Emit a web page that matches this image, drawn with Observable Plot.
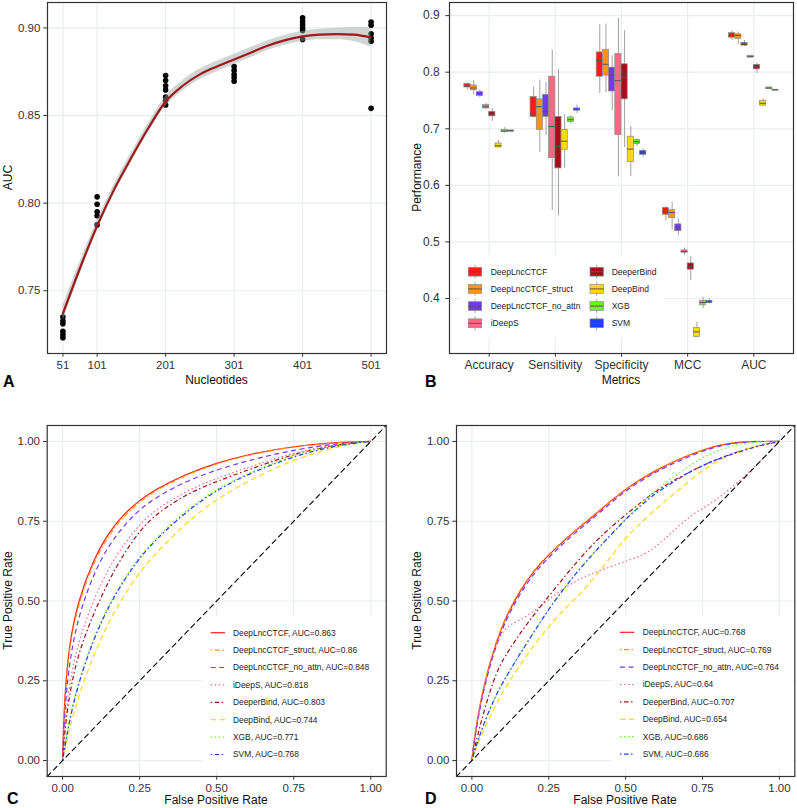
<!DOCTYPE html>
<html><head><meta charset="utf-8">
<script src="https://cdn.jsdelivr.net/npm/d3@7"></script>
<script src="https://cdn.jsdelivr.net/npm/@observablehq/plot@0.6"></script>
<style>
body{margin:0;background:#fff;}
#wrap{position:relative;width:797px;height:808px;overflow:hidden;font-family:"Liberation Sans",Arial,sans-serif;background:#fff;}
.panel{position:absolute;}
#overlay{position:absolute;left:0;top:0;pointer-events:none;}
</style></head><body><div id="wrap"></div>
<script>
// ---------- shared ----------
const models = ["DeepLncCTCF","DeepLncCTCF_struct","DeepLncCTCF_no_attn","iDeepS","DeeperBind","DeepBind","XGB","SVM"];
const colors = ["#FF1A1A","#FF9410","#7438F5","#FF6683","#A3101A","#FFD814","#6CF51E","#213CFF"];
const dashes = ["none","1.5,2.5,5,2.5","5,3.5","1.5,2.5","1.5,2.5,4.5,2.5","5.5,3.5","1.5,2.5","1.5,2.5,4.5,2.5"];

// ---------- Panel A ----------
const nucleotideTicks = [51,101,201,301,401,501];
const aucTicksA = [0.75,0.80,0.85,0.90];
const aucPointX = [51,51,51,51,51,51, 101,101,101,101,101, 201,201,201,201,201,201,201, 301,301,301,301,301, 401,401,401,401,401,401, 501,501,501,501,501,501];
const aucPointY = [0.7232,0.7249,0.7268,0.7312,0.7327,0.735, 0.7876,0.7928,0.7951,0.7994,0.8036, 0.856,0.8586,0.8605,0.8646,0.867,0.870,0.8728, 0.8696,0.8715,0.8734,0.8757,0.8779, 0.8934,0.8985,0.900,0.9019,0.9038,0.9057, 0.8541,0.8924,0.8943,0.8966,0.9015,0.9034];
const smoothX = [51,76,101,126,151,176,201,226,251,276,301,326,351,376,401,426,451,476,501];
const smoothY = [0.737,0.763,0.787,0.808,0.826,0.843,0.858,0.867,0.8735,0.878,0.882,0.886,0.890,0.893,0.8952,0.8962,0.8965,0.8962,0.8945];
const smoothSE = [0.0045,0.0036,0.003,0.0028,0.0027,0.0027,0.0029,0.003,0.003,0.003,0.003,0.0029,0.0028,0.0028,0.0029,0.003,0.0033,0.004,0.0055];

// ---------- Panel B ----------
const metrics = ["Accuracy","Sensitivity","Specificity","MCC","AUC"];
const perfTicks = [0.4,0.5,0.6,0.7,0.8,0.9];
// rows: model; columns: lower whisker, Q1, median, Q3, upper whisker
const accuracyStats = [[0.769,0.773,0.7755,0.779,0.781],[0.760,0.768,0.772,0.7765,0.785],[0.755,0.758,0.762,0.765,0.769],[0.734,0.736,0.739,0.742,0.745],[0.713,0.722,0.726,0.730,0.736],[0.666,0.667,0.670,0.674,0.679],[0.692,0.694,0.696,0.698,0.702],[0.695,0.695,0.6965,0.697,0.698]];
const sensitivityStats = [[0.719,0.7206,0.726,0.756,0.774],[0.658,0.698,0.739,0.752,0.786],[0.688,0.721,0.730,0.760,0.782],[0.556,0.648,0.704,0.792,0.839],[0.546,0.630,0.669,0.721,0.805],[0.630,0.663,0.678,0.698,0.725],[0.708,0.712,0.716,0.720,0.723],[0.727,0.732,0.734,0.736,0.742]];
const specificityStats = [[0.762,0.792,0.821,0.835,0.884],[0.764,0.794,0.814,0.839,0.885],[0.732,0.766,0.795,0.808,0.829],[0.615,0.689,0.785,0.832,0.895],[0.667,0.752,0.791,0.814,0.873],[0.616,0.641,0.664,0.686,0.704],[0.669,0.673,0.677,0.680,0.683],[0.650,0.654,0.657,0.661,0.664]];
const mccStats = [[0.537,0.548,0.554,0.560,0.563],[0.521,0.542,0.552,0.556,0.570],[0.511,0.519,0.525,0.531,0.541],[0.476,0.481,0.483,0.485,0.489],[0.432,0.451,0.456,0.462,0.474],[0.331,0.332,0.341,0.348,0.358],[0.382,0.388,0.393,0.396,0.402],[0.390,0.392,0.394,0.396,0.399]];
const aucStats = [[0.856,0.861,0.865,0.869,0.873],[0.849,0.859,0.865,0.867,0.871],[0.845,0.847,0.849,0.852,0.856],[0.825,0.826,0.8275,0.829,0.830],[0.798,0.805,0.809,0.813,0.816],[0.739,0.741,0.745,0.749,0.753],[0.770,0.770,0.772,0.773,0.774],[0.768,0.768,0.7685,0.769,0.769]];

// ---------- Panel C (ROC, set 1) ----------
const rocTicks = [0,0.25,0.5,0.75,1];
const rocDomain = [-0.05,1.05];
const fprC = [0,0.005,0.02,0.05,0.1,0.15,0.2,0.25,0.3,0.4,0.5,0.6,0.75,0.9,1];
const tprC_DeepLncCTCF   = [0,0.18,0.36,0.50,0.63,0.716,0.774,0.816,0.849,0.898,0.933,0.959,0.986,0.998,1];
const tprC_struct        = [0,0.17,0.35,0.49,0.62,0.708,0.767,0.811,0.845,0.895,0.931,0.957,0.985,0.998,1];
const tprC_no_attn       = [0,0.13,0.30,0.45,0.585,0.675,0.738,0.787,0.823,0.876,0.911,0.940,0.974,0.995,1];
const tprC_iDeepS        = [0,0.09,0.235,0.37,0.505,0.605,0.68,0.74,0.785,0.845,0.885,0.918,0.966,0.993,1];
const tprC_DeeperBind    = [0,0.07,0.20,0.335,0.46,0.565,0.65,0.72,0.77,0.835,0.875,0.910,0.962,0.992,1];
const tprC_DeepBind      = [0,0.02,0.09,0.20,0.33,0.435,0.52,0.59,0.648,0.745,0.82,0.875,0.945,0.987,1];
const tprC_XGB           = [0,0.03,0.12,0.245,0.385,0.49,0.57,0.64,0.695,0.785,0.852,0.90,0.96,0.993,1];
const tprC_SVM           = [0,0.03,0.115,0.24,0.38,0.485,0.566,0.636,0.69,0.78,0.848,0.897,0.955,0.99,1];
const aucC = [0.863,0.86,0.848,0.818,0.803,0.744,0.771,0.768];

// ---------- Panel D (ROC, set 2) ----------
const fprD = [0,0.01,0.04,0.08,0.11,0.15,0.2,0.25,0.3,0.35,0.4,0.45,0.5,0.55,0.6,0.65,0.7,0.75,0.8,0.87,0.94,1];
const tprD_DeepLncCTCF   = [0,0.085,0.245,0.375,0.448,0.522,0.594,0.645,0.69,0.731,0.77,0.812,0.85,0.882,0.91,0.934,0.955,0.973,0.988,0.999,1,1];
const tprD_struct        = [0,0.088,0.248,0.378,0.45,0.525,0.596,0.647,0.692,0.733,0.772,0.814,0.851,0.883,0.911,0.935,0.956,0.974,0.989,1,1,1];
const tprD_no_attn       = [0,0.08,0.235,0.365,0.438,0.513,0.585,0.637,0.683,0.725,0.764,0.806,0.845,0.877,0.905,0.929,0.95,0.97,0.985,0.998,1,1];
const tprD_iDeepS        = [0,0.085,0.245,0.37,0.42,0.437,0.465,0.505,0.54,0.57,0.59,0.607,0.625,0.64,0.67,0.715,0.76,0.79,0.82,0.875,0.94,1];
const tprD_DeeperBind    = [0,0.045,0.16,0.28,0.33,0.39,0.455,0.515,0.575,0.632,0.685,0.73,0.77,0.81,0.845,0.875,0.9,0.925,0.945,0.97,0.99,1];
const tprD_DeepBind      = [0,0.03,0.10,0.18,0.23,0.29,0.36,0.42,0.475,0.52,0.575,0.635,0.70,0.745,0.79,0.83,0.87,0.91,0.94,0.97,0.99,1];
const tprD_XGB           = [0,0.035,0.12,0.21,0.26,0.325,0.40,0.475,0.54,0.60,0.655,0.705,0.757,0.803,0.85,0.885,0.92,0.95,0.972,0.993,1,1];
const tprD_SVM           = [0,0.035,0.12,0.21,0.26,0.325,0.40,0.475,0.54,0.60,0.655,0.705,0.757,0.80,0.84,0.87,0.90,0.925,0.945,0.968,0.988,1];
const aucD = [0.768,0.769,0.764,0.64,0.707,0.654,0.686,0.686];

// ---------- drawing ----------
const wrap = document.getElementById("wrap");
const gridColor = "#EAEDED";
const baseStyle = {fontFamily:'"Liberation Sans", Arial, sans-serif', fontSize:"11.5px", color:"#333", background:"transparent", overflow:"visible"};
function place(svg, left, top){ svg.classList.add("panel"); svg.style.left=left+"px"; svg.style.top=top+"px"; wrap.appendChild(svg); }

// Panel A
const pointsA = aucPointX.map((x,i)=>({x, y:aucPointY[i]}));
const smoothA = smoothX.map((x,i)=>({x, y:smoothY[i], lo:smoothY[i]-smoothSE[i], hi:smoothY[i]+smoothSE[i]}));
place(Plot.plot({
  width:397, height:372, marginTop:2, marginRight:11, marginBottom:19, marginLeft:47,
  style:baseStyle,
  x:{domain:[28.5,523.5]}, y:{domain:[0.7142,0.9145]},
  marks:[
    Plot.gridX({ticks:nucleotideTicks, stroke:gridColor, strokeOpacity:1, strokeWidth:1.2}),
    Plot.gridY({ticks:aucTicksA, stroke:gridColor, strokeOpacity:1, strokeWidth:1.2}),
    Plot.dot(pointsA, {x:"x", y:"y", r:2.8, fill:"#000", stroke:"none"}),
    Plot.areaY(smoothA, {x:"x", y1:"lo", y2:"hi", fill:"#9aa3a2", fillOpacity:0.45, curve:"monotone-x"}),
    Plot.line(smoothA, {x:"x", y:"y", stroke:"#9B1B1B", strokeWidth:2.2, curve:"monotone-x"}),
    Plot.axisX({ticks:nucleotideTicks, tickSize:3.7, tickPadding:3.3, label:null}),
    Plot.axisY({ticks:aucTicksA, tickFormat:d3.format(".2f"), tickSize:3.7, tickPadding:3.5, label:null}),
    Plot.frame({stroke:"#333", strokeWidth:1.2})
  ]
}), 0, 0);

// Panel B
const statsByMetric = [accuracyStats, sensitivityStats, specificityStats, mccStats, aucStats];
const dodge = 0.75, step = dodge/models.length;
const boxRows = statsByMetric.flatMap((rows,i)=>rows.map((s,j)=>{
  const cx = i + (j-(models.length-1)/2)*step;
  return {i, j, cx, x1:cx-step/2, x2:cx+step/2, lo:s[0], q1:s[1], med:s[2], q3:s[3], hi:s[4]};
}));
place(Plot.plot({
  width:397, height:372, marginTop:2, marginRight:4, marginBottom:19, marginLeft:49,
  style:{...baseStyle, fontSize:"12px"},
  x:{domain:[-0.6,4.6]}, y:{domain:[0.3028,0.9232]},
  marks:[
    Plot.gridX({ticks:metrics.map((_,i)=>i), stroke:gridColor, strokeOpacity:1, strokeWidth:1.2}),
    Plot.gridY({ticks:perfTicks, stroke:gridColor, strokeOpacity:1, strokeWidth:1.2}),
    ...models.flatMap((m,j)=>{
      const d = boxRows.filter(r=>r.j===j);
      return [
        Plot.ruleX(d, {x:"cx", y1:"lo", y2:"hi", stroke:"#a0a0a0", strokeWidth:1}),
        Plot.rect(d, {x1:"x1", x2:"x2", y1:"q1", y2:"q3", fill:colors[j], stroke:"#8a8a8a", strokeWidth:0.7}),
        Plot.ruleY(d, {y:"med", x1:"x1", x2:"x2", stroke:"#555", strokeWidth:1})
      ];
    }),
    Plot.axisX({ticks:metrics.map((_,i)=>i), tickFormat:i=>metrics[i], tickSize:3.7, tickPadding:3.3, label:null}),
    Plot.axisY({ticks:perfTicks, tickFormat:d3.format(".1f"), tickSize:3.7, tickPadding:6, label:null}),
    Plot.frame({stroke:"#333", strokeWidth:1.2})
  ]
}), 400, 0);

// Panels C and D
const tprC = [tprC_DeepLncCTCF,tprC_struct,tprC_no_attn,tprC_iDeepS,tprC_DeeperBind,tprC_DeepBind,tprC_XGB,tprC_SVM];
const tprD = [tprD_DeepLncCTCF,tprD_struct,tprD_no_attn,tprD_iDeepS,tprD_DeeperBind,tprD_DeepBind,tprD_XGB,tprD_SVM];
function rocPlot(fpr, tprs, marginLeft, marginRight){
  return Plot.plot({
    width:397, height:375, marginTop:5, marginRight, marginBottom:19, marginLeft,
    style:baseStyle,
    x:{domain:rocDomain}, y:{domain:rocDomain},
    marks:[
      Plot.gridX({ticks:rocTicks, stroke:gridColor, strokeOpacity:1, strokeWidth:1.2}),
      Plot.gridY({ticks:rocTicks, stroke:gridColor, strokeOpacity:1, strokeWidth:1.2}),
      ...models.map((m,k)=>Plot.line(fpr.map((f,i)=>({fpr:f, tpr:tprs[k][i]})), {
        x:"fpr", y:"tpr", stroke:colors[k], strokeWidth:1.2, strokeDasharray:dashes[k], strokeLinecap:"butt", curve:"basis"})),
      Plot.line(rocDomain, {x:d=>d, y:d=>d, stroke:"#000", strokeWidth:1.1, strokeDasharray:"5,4"}),
      Plot.axisX({ticks:rocTicks, tickFormat:d3.format(".2f"), tickSize:3.7, tickPadding:3.3, label:null}),
      Plot.axisY({ticks:rocTicks, tickFormat:d3.format(".2f"), tickSize:3.7, tickPadding:3.5, label:null}),
      Plot.frame({stroke:"#333", strokeWidth:1.2})
    ]
  });
}
place(rocPlot(fprC, tprC, 46.7, 11.3), 0, 420);
place(rocPlot(fprD, tprD, 56, 2.7), 400, 420);

// ---------- overlay: titles, panel letters, legends ----------
const ov = d3.select(wrap).append("svg").attr("id","overlay").attr("width",797).attr("height",808)
  .style("font-family",'"Liberation Sans", Arial, sans-serif');
function title(x,y,txt,rot){
  const t = ov.append("text").attr("text-anchor","middle").attr("font-size",12).attr("fill","#111").text(txt);
  if(rot) t.attr("transform",`translate(${x},${y}) rotate(-90)`); else t.attr("x",x).attr("y",y);
}
title(216.5,383.5,"Nucleotides");
title(11.7,177.5,"AUC",true);
title(621,383.5,"Metrics");
title(420.7,177.5,"Performance",true);
title(216,804,"False Positive Rate");
title(11.7,600.5,"True Positive Rate",true);
title(625,804,"False Positive Rate");
title(420.7,600.5,"True Positive Rate",true);
[["A",3,387],["B",425,387],["C",7,803.5],["D",425,803.5]].forEach(([l,x,y])=>
  ov.append("text").attr("x",x).attr("y",y).attr("font-size",16).attr("font-weight","bold").attr("fill","#000").text(l));

// Legend B
ov.append("rect").attr("x",460).attr("y",255).attr("width",203).attr("height",83).attr("fill","#fff");
models.forEach((m,j)=>{
  const col = Math.floor(j/4), row = j%4;
  const kx = col ? 590 : 468.3, tx = col ? 611.7 : 490.7, ky = 271.7 + row*17.2;
  const g = ov.append("g");
  g.append("line").attr("x1",kx+6.7).attr("x2",kx+6.7).attr("y1",ky-7).attr("y2",ky+7).attr("stroke","#a0a0a0").attr("stroke-width",0.9);
  g.append("rect").attr("x",kx).attr("y",ky-4.4).attr("width",13.4).attr("height",8.8).attr("fill",colors[j]).attr("stroke","#8a8a8a").attr("stroke-width",0.7);
  g.append("line").attr("x1",kx).attr("x2",kx+13.4).attr("y1",ky).attr("y2",ky).attr("stroke","#555").attr("stroke-width",1);
  g.append("text").attr("x",tx).attr("y",ky).attr("dy","0.35em").attr("font-size",8.5).attr("fill","#222").text(m);
});

// Legends C and D
function rocLegend(bx, bw, kx, tx, y0, aucs){
  ov.append("rect").attr("x",bx).attr("y",616.5).attr("width",bw).attr("height",153).attr("fill","#fff");
  models.forEach((m,k)=>{
    const ky = y0 + k*17.4;
    ov.append("line").attr("x1",kx).attr("x2",kx+14.3).attr("y1",ky).attr("y2",ky)
      .attr("stroke",colors[k]).attr("stroke-width",1.2).attr("stroke-dasharray",dashes[k]);
    ov.append("text").attr("x",tx).attr("y",ky).attr("dy","0.35em").attr("font-size",8.4).attr("fill","#222")
      .text(`${m}, AUC=${aucs[k]}`);
  });
}
rocLegend(202, 182.5, 210.7, 233, 632.7, aucC);
rocLegend(611.7, 181.5, 620, 642.7, 632.3, aucD);
</script></body></html>
